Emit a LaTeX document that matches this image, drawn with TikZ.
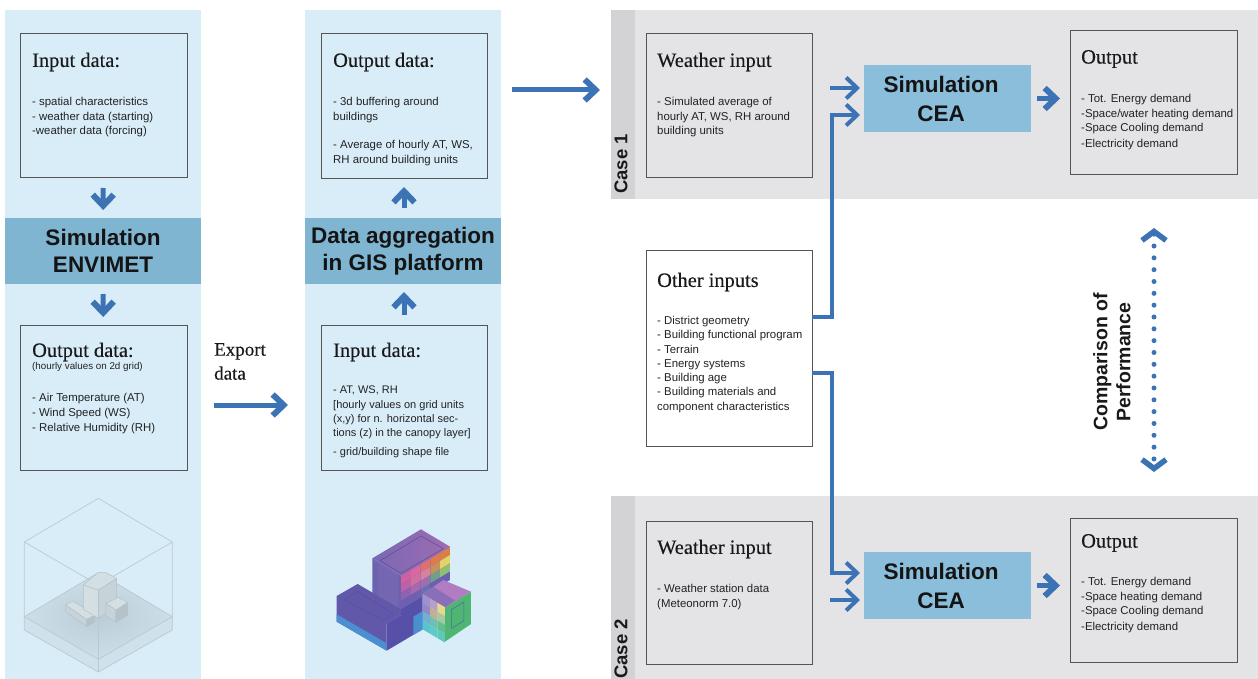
\documentclass[tikz,border=0pt]{standalone}
\usepackage{fontspec}
\setmainfont{Liberation Serif}
\setsansfont{Liberation Sans}
\usetikzlibrary{arrows.meta,calc}
\definecolor{panel}{HTML}{D9EDF9}
\definecolor{band}{HTML}{7FB5D1}
\definecolor{simc}{HTML}{8ABEDB}
\definecolor{grayp}{HTML}{E4E3E6}
\definecolor{tabc}{HTML}{D3D2D4}
\definecolor{arrc}{HTML}{3B73B5}
\definecolor{boxl}{HTML}{555555}
\definecolor{txt}{HTML}{222222}
\definecolor{wire}{HTML}{BCC8CE}
\definecolor{glass}{HTML}{C4D6DE}
\definecolor{bl}{HTML}{C6D3D9}
\definecolor{bm}{HTML}{D4DFE4}
\definecolor{bd}{HTML}{B4C2C9}
\definecolor{shad}{HTML}{A9BBC4}
\definecolor{vA}{HTML}{9E6CB2}
\definecolor{vL}{HTML}{7A68B4}
\definecolor{vB}{HTML}{6C62B0}
\definecolor{vC}{HTML}{6258AA}
\definecolor{vD}{HTML}{5650A8}
\definecolor{sB}{HTML}{4A8FD0}
\definecolor{gA}{HTML}{4FB573}
\definecolor{mA}{HTML}{B27CC2}
\definecolor{tmpc}{HTML}{000000}
\tikzset{
  x=1pt,y=-1pt,
  zone/.style={inner sep=0pt,outer sep=0pt},
  blue panel/.style={zone,fill=panel},
  gray panel/.style={zone,fill=grayp},
  tab/.style={zone,fill=tabc},
  bandbox/.style={zone,fill=band,font=\sffamily\bfseries\fontsize{22.5}{27.5}\selectfont,text=black!92,align=center},
  simbox/.style={zone,fill=simc},
  simtext/.style={inner sep=0pt,align=center,font=\sffamily\bfseries\fontsize{22.5}{28.5}\selectfont,text=black!92},
  databox/.style={zone,draw=boxl,line width=1pt},
  whitebox/.style={databox,fill=white},
  heading/.style={inner sep=0pt,anchor=west,font=\rmfamily\fontsize{20.4}{22}\selectfont\addfontfeature{FakeBold=0.25},text=black!90},
  bodytext/.style={inner sep=0pt,anchor=north west,align=left,font=\sffamily\fontsize{11.4}{14.6}\selectfont,text=txt},
  casetext/.style={inner sep=0pt,rotate=90,anchor=west,font=\sffamily\bfseries\fontsize{18.5}{19}\selectfont,text=black!90},
  arr/.style={draw=arrc,line width=4pt,-{Straight Barb[length=11pt,width=21pt,line width=4pt]}},
  chunky/.style={draw=arrc,line width=5pt,-{Straight Barb[length=11pt,width=21pt,line width=6pt]}},
  dots/.style={draw=arrc,line width=5pt,line cap=round,dash pattern=on 0pt off 11.83pt,
    {Straight Barb[length=9pt,width=24pt,line width=5.5pt,line cap=butt]}-{Straight Barb[length=9pt,width=24pt,line width=5.5pt,line cap=butt]}},
}
\newcommand{\BX}[7]{\node[#2,minimum width={(#5-#3)*1pt},minimum height={(#6-#4)*1pt}] (#1) at ({(#3+#5)/2},{(#4+#6)/2}) {#7};}
\begin{document}
\begin{tikzpicture}
\useasboundingbox (0,0) rectangle (1258,679);
\fill[white] (0,0) rectangle (1258,679);
% panels
\BX{pA}{blue panel}{5}{10}{201}{679}{}
\BX{pB}{blue panel}{305}{10}{501}{679}{}
\BX{cA}{gray panel}{611}{10}{1258}{199}{}
\BX{cB}{gray panel}{611}{496}{1258}{679}{}
\BX{tA}{tab}{611}{10}{635}{199}{}
\BX{tB}{tab}{611}{496}{635}{679}{}
\node[casetext] (caseA) at (621,194) {Case 1};
\node[casetext] (caseB) at (621,679) {Case 2};
% column 1
\BX{inA}{databox}{20}{34}{187}{178}{}
\node[heading] (tInA) at (32,62) {Input data:};
\node[bodytext] (bInA) at (32,97) {- spatial characteristics\\- weather data (starting)\\-weather data (forcing)};
\BX{envi}{bandbox}{5}{218}{201}{284}{Simulation\\ENVIMET}
\BX{outA}{databox}{20}{325}{187}{470}{}
\node[heading] (tOutA) at (32,352) {Output data:};
\node[bodytext,font=\sffamily\fontsize{9.8}{12}\selectfont] (sOutA) at (32,362) {(hourly values on 2d grid)};
\node[bodytext] (bOutA) at (32,393) {- Air Temperature (AT)\\- Wind Speed (WS)\\[1pt]- Relative Humidity (RH)};
% column 2
\BX{outB}{databox}{321}{34}{487}{179}{}
\node[heading] (tOutB) at (333,62) {Output data:};
\node[bodytext] (bOutB) at (333,97) {- 3d buffering around\\buildings\\[14pt]- Average of hourly AT, WS,\\RH around building units};
\BX{agg}{bandbox}{305}{218}{501}{284}{Data aggregation\\in GIS platform}
\BX{inB}{databox}{321}{325}{487}{470}{}
\node[heading] (tInB) at (333,352) {Input data:};
\node[bodytext,font=\sffamily\fontsize{11}{14.2}\selectfont] (bInB) at (333,386) {- AT, WS, RH\\{}[hourly values on grid units\\(x,y) for n. horizontal sec-\\tions (z) in the canopy layer]\\[5pt]- grid/building shape file};
% case 1
\BX{wA}{databox}{646}{34}{812}{178}{}
\node[heading] (tWA) at (657,62) {Weather input};
\node[bodytext] (bWA) at (657,97) {- Simulated average of\\hourly AT, WS, RH around\\building units};
\BX{simA}{simbox}{864}{65}{1031}{132}{}
\node[simtext] (lSimA) at (941,99) {Simulation\\CEA};
\BX{resA}{databox}{1070}{31}{1237}{175}{}
\node[heading] (tResA) at (1081,59) {Output};
\node[bodytext] (bResA) at (1081,94) {- Tot. Energy demand\\-Space/water heating demand\\-Space Cooling demand\\[1.5pt]-Electricity demand};
% other inputs
\BX{other}{whitebox}{646}{250}{812}{446}{}
\node[heading] (tOther) at (657,282) {Other inputs};
\node[bodytext,font=\sffamily\fontsize{11.4}{14.3}\selectfont] (bOther) at (657,316) {- District geometry\\- Building functional program\\- Terrain\\- Energy systems\\- Building age\\- Building materials and\\component characteristics};
% case 2
\BX{wB}{databox}{646}{521}{812}{664}{}
\node[heading] (tWB) at (657,549) {Weather input};
\node[bodytext] (bWB) at (657,584) {- Weather station data\\(Meteonorm 7.0)};
\BX{simB}{simbox}{864}{552}{1031}{619}{}
\node[simtext] (lSimB) at (941,586) {Simulation\\CEA};
\BX{resB}{databox}{1070}{518}{1237}{662}{}
\node[heading] (tResB) at (1081,543) {Output};
\node[bodytext] (bResB) at (1081,577) {- Tot. Energy demand\\-Space heating demand\\-Space Cooling demand\\[1.5pt]-Electricity demand};
% free labels
\node[inner sep=0pt,anchor=north west,align=left,font=\rmfamily\fontsize{19}{24}\selectfont\addfontfeature{FakeBold=0.25},text=black!90] (exportL) at (214,343) {Export\\data};
\node[inner sep=0pt,rotate=90,align=center,font=\sffamily\bfseries\fontsize{19.5}{23}\selectfont,text=black!90] (cmpL) at (1112,362) {Comparison of\\Performance};
% arrows
\draw[chunky,shorten <=10pt,shorten >=8pt] (inA) -- (envi);
\draw[chunky,shorten <=10pt,shorten >=8pt] (envi) -- (outA);
\draw[chunky,shorten <=10pt,shorten >=8pt] (inB) -- (inB |- agg.south);
\draw[chunky,shorten <=10pt,shorten >=8pt] (agg.north -| outB) -- (outB);
\coordinate (ex) at (250,405);
\draw[chunky,shorten <=13pt,shorten >=17pt] (pA.east |- ex) -- (pB.west |- ex);
\coordinate (big) at (550,90);
\draw[chunky,shorten <=11pt,shorten >=11pt] (pB.east |- big) -- (cA.west |- big);
\coordinate (aIn) at (840,88);
\coordinate (bIn) at (840,600);
\coordinate (jA) at (832,317);
\coordinate (jB) at (832,373);
\coordinate (aOther) at (840,115);
\coordinate (bOther) at (840,573);
\draw[arr,shorten <=18pt,shorten >=4pt] (wA.east |- aIn) -- (simA.west |- aIn);
\draw[arr,shorten <=18pt,shorten >=4pt] (wB.east |- bIn) -- (simB.west |- bIn);
\draw[arr,shorten >=4pt] (other.east |- jA) -- (jA) |- (simA.west |- aOther);
\draw[arr,shorten >=4pt] (other.east |- jB) -- (jB) |- (simB.west |- bOther);
\draw[chunky,shorten <=6pt,shorten >=10pt] (simA.east) -- (simA.east -| resA.west);
\draw[chunky,shorten <=6pt,shorten >=10pt] (simB.east) -- (simB.east -| resB.west);
\coordinate (dd) at (1154,350);
\draw[dots,shorten <=29pt,shorten >=24pt] (cA.south -| dd) -- (cB.north -| dd);
% wire-frame model (left) in zoom units
\begin{scope}[x=0.33333pt,y=-0.33333pt,shift={(0,1410)},line join=round]
\fill[glass,opacity=.45] (73,440) -- (295,568) -- (517,440) -- (517,480) -- (295,606) -- (73,480) -- cycle;
\fill[glass,opacity=.55] (73,440) -- (295,308) -- (517,440) -- (295,568) -- cycle;
\shade[inner color=shad,outer color=glass!55!panel,opacity=.5] (73,440) -- (295,308) -- (517,440) -- (295,568) -- cycle;
\draw[wire,line width=.7pt] (73,216) -- (295,85) -- (517,216) -- (295,345) -- cycle;
\draw[wire,line width=.7pt] (73,216) -- (73,480) -- (295,606) -- (517,480) -- (517,216);
\draw[wire,line width=.7pt] (295,345) -- (295,606);
\draw[wire,line width=.7pt] (73,440) -- (295,308) -- (517,440) -- (295,568) -- cycle;
\fill[bl,draw=bd,line width=.5pt] (197,405) -- (260,448) -- (260,470) -- (197,425) -- cycle;
\fill[bd,draw=bd,line width=.5pt] (260,448) -- (285,435) -- (285,455) -- (260,470) -- cycle;
\fill[bm,draw=bd,line width=.5pt] (197,405) -- (218,393) -- (285,435) -- (260,448) -- cycle;
\fill[bm,draw=bd,line width=.5pt] (250,345) -- (295,360) -- (295,445) -- (250,418) -- cycle;
\fill[bl,draw=bd,line width=.5pt] (295,360) -- (350,325) -- (350,410) -- (295,445) -- cycle;
\fill[bm,draw=bd,line width=.5pt] (250,345) -- (295,307) -- (315,307) -- (350,325) -- (295,360) -- cycle;
\fill[bl,draw=bd,line width=.5pt] (318,400) -- (348,420) -- (348,457) -- (318,438) -- cycle;
\fill[bd,draw=bd,line width=.5pt] (348,420) -- (383,397) -- (383,435) -- (348,457) -- cycle;
\fill[bm,draw=bd,line width=.5pt] (318,400) -- (355,382) -- (383,397) -- (348,420) -- cycle;
% coloured model (right) in zoom units
\fill[vD] (1203,318) -- (1350,230) -- (1350,325) -- (1268,378) -- (1268,478) -- (1160,542) -- (1160,460) -- (1203,435) -- cycle;
\foreach \r/\row in {0/{D060A0,D868A0,E07070,E07A50,D98048},1/{C060A8,D070A0,D880A0,C8905A,E3D368},2/{8E62AE,A868B0,9C70B0,70A088,90C070},3/{6C60B0,7060B0,6C70B0,6860B0,6860B0}}{
  \foreach \c [count=\i from 0] in \row {
    \definecolor{tmpc}{HTML}{\c}
    \fill[tmpc] ({1203+29.4*\i},{318-17.6*\i+25*\r}) -- ++(29.4,-17.6) -- ++(0,25) -- ++(-29.4,17.6) -- cycle;
  }
}
\fill[sB] (1240,440) -- (1268,423) -- (1268,478) -- (1240,495) -- cycle;
\fill[vB] (1117,265) -- (1203,318) -- (1203,435) -- (1117,368) -- cycle;
\fill[vL,opacity=.7] (1135,276) -- (1195,313) -- (1195,425) -- (1135,380) -- cycle;
\shade[left color=vL,right color=vA] (1117,265) -- (1263,178) -- (1350,230) -- (1203,318) -- cycle;
\draw[vB!85!black,line width=.6pt] (1140,272) -- (1263,198) -- (1330,236) -- (1203,310) -- cycle;
\fill[vC] (1010,378) -- (1073,342) -- (1203,418) -- (1203,435) -- (1160,460) -- (1160,542) -- (1010,455) -- cycle;
\fill[sB] (1010,455) -- (1160,542) -- (1160,520) -- (1010,433) -- cycle;
\draw[vD,line width=.6pt] (1032,390) -- (1073,364) -- (1180,432) -- (1150,450) -- cycle;
\fill[gA] (1335,412) -- (1413,365) -- (1413,462) -- (1335,515) -- cycle;
\fill[mA] (1268,372) -- (1330,330) -- (1413,365) -- (1335,412) -- cycle;
\fill[vL!70!mA] (1268,372) -- (1300,350) -- (1365,392) -- (1335,412) -- cycle;
\foreach \r/\row in {0/{A090D0,B5A0C8,E8D888},1/{9088C8,C0B090,A8C8A0},2/{70B0D0,70C0B0,60C090},3/{58C4D0,60CAC8,60C8B8}}{
  \foreach \c [count=\i from 0] in \row {
    \definecolor{tmpc}{HTML}{\c}
    \fill[tmpc] ({1268+22.33*\i},{372+13.3*\i+26.5*\r}) -- ++(22.33,13.3) -- ++(0,26.5) -- ++(-22.33,-13.3) -- cycle;
  }
}
\draw[vD!80!gA,line width=.5pt] (1355,418) -- (1392,396) -- (1392,452) -- (1355,475) -- cycle;
\end{scope}
\end{tikzpicture}
\end{document}
